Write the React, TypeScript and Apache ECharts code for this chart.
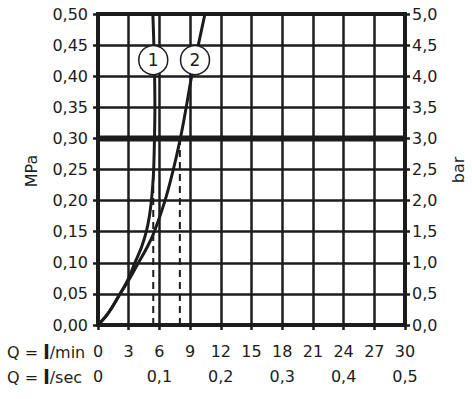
import React, { useEffect, useRef } from "react";
import * as echarts from "echarts";

// Flow Q (l/min) and pressure p (MPa)
const curve1Q = [0, 1, 2.15, 2.9, 3.6, 4.25, 4.72, 5.02, 5.22, 5.35, 5.44, 5.52, 5.56, 5.53, 5.46, 5.36];
const curve1P = [0, 0.019, 0.05, 0.072, 0.1, 0.125, 0.15, 0.175, 0.2, 0.225, 0.25, 0.3, 0.35, 0.4, 0.45, 0.5];
const curve2Q = [0, 1, 2.15, 3.0, 3.95, 4.8, 5.5, 6.55, 7.36, 8.05, 8.62, 9.15, 9.8, 10.45];
const curve2P = [0, 0.019, 0.05, 0.072, 0.1, 0.125, 0.15, 0.2, 0.25, 0.3, 0.35, 0.4, 0.45, 0.5];
const curveLabels = ["1", "2"];
const labelQ = [5.4, 9.48];
const labelP = [0.426, 0.426];
const dashQ = [5.4, 8.0];
const dashTopP = [0.25, 0.3];
const refPressure = 0.3;
const secTickQ = [0, 6, 12, 18, 24, 30];
const secTickLabels = ["0", "0,1", "0,2", "0,3", "0,4", "0,5"];

const FONT = "DejaVu Sans";
const INK = "#1c1c1c";

export default function App() {
  const ref = useRef<HTMLDivElement>(null);
  useEffect(() => {
    if (!ref.current) return;
    const chart = echarts.init(ref.current, undefined, { renderer: "svg" });
    const zip = (a: number[], b: number[]) => a.map((v, i) => [v, b[i]]);
    const textStyle = { fontFamily: FONT, fontSize: 16, color: INK };
    chart.setOption({
      animation: false,
      grid: {
        left: 98,
        right: 67,
        top: 14,
        bottom: 74,
        show: true,
        borderColor: INK,
        borderWidth: 4,
      },
      xAxis: {
        type: "value",
        min: 0,
        max: 30,
        interval: 3,
        axisLine: { show: true, onZero: false, lineStyle: { color: INK, width: 4 } },
        axisTick: { show: true, length: 5, lineStyle: { color: INK, width: 2.5 } },
        splitLine: { show: true, lineStyle: { color: INK, width: 2.5 } },
        axisLabel: {
          ...textStyle,
          margin: 14,
          lineHeight: 25,
          showMinLabel: true,
          showMaxLabel: true,
          formatter: (v: number) => {
            const idx = secTickQ.indexOf(v);
            return `${v}\n${idx >= 0 ? secTickLabels[idx] : ""}`;
          },
        },
      },
      yAxis: [
        {
          type: "value",
          min: 0,
          max: 0.5,
          interval: 0.05,
          axisLine: { show: true, lineStyle: { color: INK, width: 4 } },
          axisTick: { show: true, length: 5, lineStyle: { color: INK, width: 2.5 } },
          splitLine: { show: true, lineStyle: { color: INK, width: 2.5 } },
          axisLabel: {
            ...textStyle,
            margin: 10,
            formatter: (v: number) => v.toFixed(2).replace(".", ","),
          },
        },
        {
          type: "value",
          position: "right",
          min: 0,
          max: 5,
          interval: 0.5,
          axisLine: { show: true, lineStyle: { color: INK, width: 4 } },
          axisTick: { show: true, length: 5, lineStyle: { color: INK, width: 2.5 } },
          splitLine: { show: false },
          axisLabel: {
            ...textStyle,
            margin: 7,
            formatter: (v: number) => v.toFixed(1).replace(".", ","),
          },
        },
      ],
      series: [
        {
          type: "line",
          data: [
            [0, refPressure],
            [30, refPressure],
          ],
          symbol: "none",
          lineStyle: { color: INK, width: 6 },
          z: 3,
        },
        ...dashQ.map((q, i) => ({
          type: "line",
          data: [
            [q, 0],
            [q, dashTopP[i]],
          ],
          symbol: "none",
          lineStyle: { color: INK, width: 2, type: [7, 5] },
          z: 4,
        })),
        {
          type: "line",
          data: zip(curve1Q, curve1P),
          symbol: "none",
          smooth: 0.4,
          lineStyle: { color: INK, width: 3 },
          z: 5,
        },
        {
          type: "line",
          data: zip(curve2Q, curve2P),
          symbol: "none",
          smooth: 0.4,
          lineStyle: { color: INK, width: 3 },
          z: 5,
        },
        {
          type: "scatter",
          data: labelQ.map((q, i) => ({ value: [q, labelP[i]], name: curveLabels[i] })),
          symbol: "circle",
          symbolSize: 29,
          itemStyle: { color: "#ffffff", borderColor: INK, borderWidth: 1.5, opacity: 1 },
          label: {
            show: true,
            position: "inside",
            formatter: (p: any) => p.name,
            fontFamily: FONT,
            fontSize: 17,
            color: INK,
          },
          z: 10,
        },
      ],
      graphic: [
        {
          type: "text",
          x: 31,
          y: 171,
          rotation: Math.PI / 2,
          style: { text: "MPa", fill: INK, align: "center", verticalAlign: "middle", font: `16px "${FONT}"` },
        },
        {
          type: "text",
          x: 458,
          y: 170,
          rotation: Math.PI / 2,
          style: { text: "bar", fill: INK, align: "center", verticalAlign: "middle", font: `16px "${FONT}"` },
        },
        {
          type: "text",
          x: 7,
          y: 352,
          style: {
            text: "{a|Q = }{b|l}{a|/min}",
            verticalAlign: "middle",
            rich: {
              a: { fontFamily: FONT, fontSize: 16, fill: INK, color: INK },
              b: { fontFamily: FONT, fontSize: 19, fontWeight: "bold", fill: INK, color: INK },
            },
          },
        },
        {
          type: "text",
          x: 7,
          y: 377,
          style: {
            text: "{a|Q = }{b|l}{a|/sec}",
            verticalAlign: "middle",
            rich: {
              a: { fontFamily: FONT, fontSize: 16, fill: INK, color: INK },
              b: { fontFamily: FONT, fontSize: 19, fontWeight: "bold", fill: INK, color: INK },
            },
          },
        },
      ],
    });
    return () => chart.dispose();
  }, []);
  return (
    <div
      ref={ref}
      style={{ position: "fixed", left: 0, top: 0, width: 472, height: 399, background: "#fff" }}
    />
  );
}
